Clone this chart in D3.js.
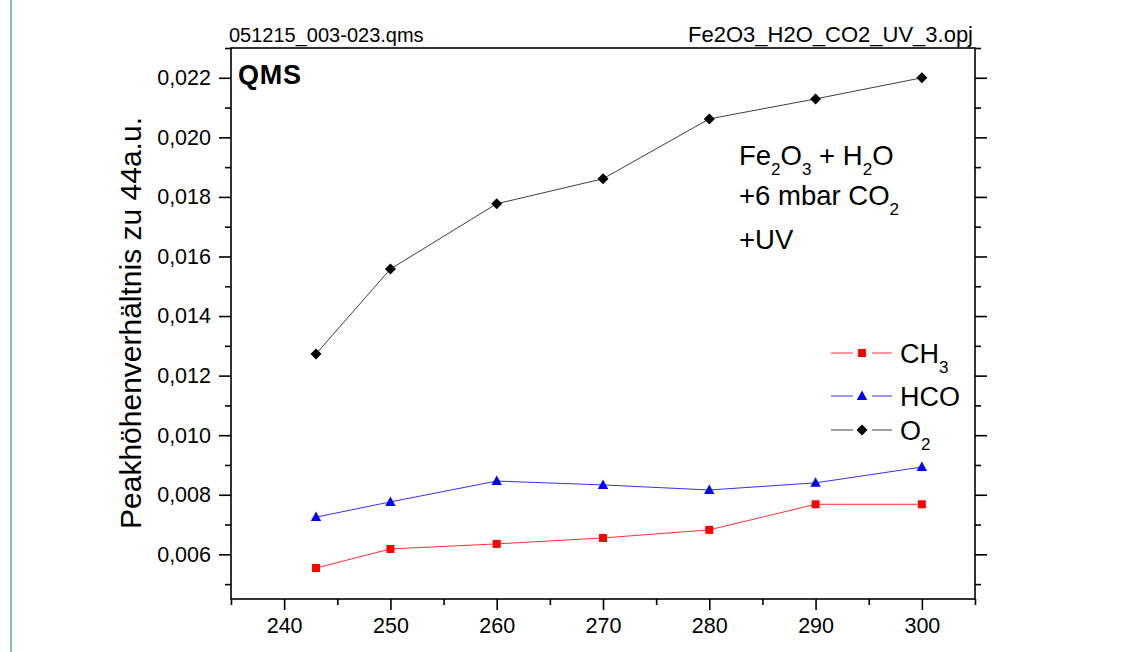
<!DOCTYPE html>
<html>
<head>
<meta charset="utf-8">
<script src="https://cdn.jsdelivr.net/npm/d3@7"></script>
<style>
  html, body { margin: 0; padding: 0; background: #fff; }
  svg { display: block; }
  text { font-family: "Liberation Sans", Arial, sans-serif; fill: #000; }
</style>
</head>
<body>
<svg id="chart" width="1133" height="652"></svg>
<script>
// ---- data ----
const wavelengths = [243, 250, 260, 270, 280, 290, 300];
const ch3 = [0.00554, 0.00618, 0.00635, 0.00655, 0.00682, 0.00768, 0.00768];
const hco = [0.00725, 0.00776, 0.00846, 0.00833, 0.00816, 0.00840, 0.00893];
const o2  = [0.01273, 0.01558, 0.01777, 0.01861, 0.02062, 0.02129, 0.02200];
const xTicks = [240, 250, 260, 270, 280, 290, 300];
const xMinor = [235, 245, 255, 265, 275, 285, 295, 305];
const yTicks = [0.006, 0.008, 0.010, 0.012, 0.014, 0.016, 0.018, 0.020, 0.022];
const yMinor = [0.005, 0.007, 0.009, 0.011, 0.013, 0.015, 0.017, 0.019, 0.021, 0.023];
const fileLeft = "051215_003-023.qms";
const fileRight = "Fe2O3_H2O_CO2_UV_3.opj";
const yLabel = "Peakhöhenverhältnis zu 44a.u.";

const series = [
  {name: "CH3", base: "CH", sub: "3", values: ch3, color: "#ff0000", line: "#ff3030", shape: "square"},
  {name: "HCO", base: "HCO", sub: "", values: hco, color: "#0000ff", line: "#3030ff", shape: "triangle"},
  {name: "O2", base: "O", sub: "2", values: o2, color: "#000000", line: "#404040", shape: "diamond"}
];

// ---- layout ----
const L = 231, R = 975, T = 48, B = 599;
const svg = d3.select("#chart");

// left decorative border
svg.append("line").attr("x1", 11).attr("x2", 11).attr("y1", 0).attr("y2", 652)
  .attr("stroke", "#7fc6a8").attr("stroke-width", 2);

const x = d3.scaleLinear().domain([235, 305]).range([L, R]);
const y = d3.scaleLinear().domain([0.0045, 0.023]).range([B, T]);

const fmt = v => d3.format(".3f")(v).replace(".", ",");
const FONT = '"Liberation Sans", Arial, sans-serif';

// axes
function styleAxis(g) {
  g.select(".domain").remove();
  g.selectAll("line").attr("stroke", "#000").attr("stroke-width", 1.6);
}
const gx = svg.append("g").attr("transform", `translate(0,${B})`)
  .call(d3.axisBottom(x).tickValues(xTicks).tickSize(11).tickPadding(8).tickFormat(d3.format("d")));
styleAxis(gx);
gx.selectAll("text").attr("font-size", 21.5).attr("font-family", FONT);
const gxm = svg.append("g").attr("transform", `translate(0,${B})`)
  .call(d3.axisBottom(x).tickValues(xMinor).tickSize(6).tickFormat(""));
styleAxis(gxm);

const gy = svg.append("g").attr("transform", `translate(${L},0)`)
  .call(d3.axisLeft(y).tickValues(yTicks).tickSize(12).tickPadding(8).tickFormat(fmt));
styleAxis(gy);
gy.selectAll("text").attr("font-size", 21.5).attr("font-family", FONT);
const gym = svg.append("g").attr("transform", `translate(${L},0)`)
  .call(d3.axisLeft(y).tickValues(yMinor).tickSize(6).tickFormat(""));
styleAxis(gym);

const gyr = svg.append("g").attr("transform", `translate(${R},0)`)
  .call(d3.axisRight(y).tickValues(yTicks).tickSize(12).tickFormat(""));
styleAxis(gyr);
const gyrm = svg.append("g").attr("transform", `translate(${R},0)`)
  .call(d3.axisRight(y).tickValues(yMinor).tickSize(6).tickFormat(""));
styleAxis(gyrm);

// frame
svg.append("rect").attr("x", L).attr("y", T).attr("width", R - L).attr("height", B - T)
  .attr("fill", "none").attr("stroke", "#000").attr("stroke-width", 1.6);

// header texts
svg.append("text").attr("x", 229).attr("y", 42).attr("font-size", 20).text(fileLeft);
svg.append("text").attr("x", 973).attr("y", 42).attr("font-size", 22).attr("text-anchor", "end").text(fileRight);

// y label
svg.append("text").attr("transform", "translate(141,323) rotate(-90)")
  .attr("text-anchor", "middle").attr("font-size", 30).text(yLabel);

// QMS
svg.append("text").attr("x", 238).attr("y", 84).attr("font-size", 27).attr("font-weight", "bold")
  .attr("letter-spacing", 0.8).text("QMS");

// annotation with subscripts
function richText(xp, yp, parts, size) {
  const t = svg.append("text").attr("x", xp).attr("y", yp).attr("font-size", size);
  let pending = 0;
  parts.forEach(p => {
    const span = t.append("tspan").text(p.t);
    if (p.sub) {
      span.attr("font-size", size * 0.62).attr("dy", pending + 10);
      pending = -10;
    } else {
      if (pending) span.attr("dy", pending);
      pending = 0;
    }
  });
  return t;
}
richText(739, 165, [{t: "Fe"}, {t: "2", sub: 1}, {t: "O"}, {t: "3", sub: 1}, {t: " + H"}, {t: "2", sub: 1}, {t: "O"}], 27.5);
richText(739, 205, [{t: "+6 mbar CO"}, {t: "2", sub: 1}], 27.5);
richText(739, 249, [{t: "+UV"}], 27.5);

// symbols
function symbolPath(shape) {
  if (shape === "square") return "M-4,-4H4V4H-4Z";
  if (shape === "triangle") return "M0,-5.5L5.2,4L-5.2,4Z";
  return "M0,-5.5L5.5,0L0,5.5L-5.5,0Z";
}

// lines & markers
const lineGen = d3.line().x((d, i) => x(wavelengths[i])).y(d => y(d));
series.forEach(s => {
  svg.append("path").datum(s.values).attr("d", lineGen)
    .attr("fill", "none").attr("stroke", s.line).attr("stroke-width", 1);
  svg.selectAll(null).data(s.values).enter().append("path")
    .attr("d", symbolPath(s.shape))
    .attr("transform", (d, i) => `translate(${x(wavelengths[i])},${y(d)})`)
    .attr("fill", s.color);
});

// legend
const legendY = [353, 396, 430];
series.forEach((s, i) => {
  const ly = legendY[i];
  svg.append("line").attr("x1", 831).attr("x2", 853).attr("y1", ly).attr("y2", ly)
    .attr("stroke", s.line).attr("stroke-width", 1);
  svg.append("line").attr("x1", 872).attr("x2", 892).attr("y1", ly).attr("y2", ly)
    .attr("stroke", s.line).attr("stroke-width", 1);
  svg.append("path").attr("d", symbolPath(s.shape))
    .attr("transform", `translate(862,${ly})`)
    .attr("fill", s.color);
  const t = svg.append("text").attr("x", 900).attr("y", ly + 9.5).attr("font-size", 27);
  t.append("tspan").text(s.base);
  if (s.sub) t.append("tspan").attr("font-size", 17).attr("dy", 10).text(s.sub);
});
</script>
</body>
</html>
